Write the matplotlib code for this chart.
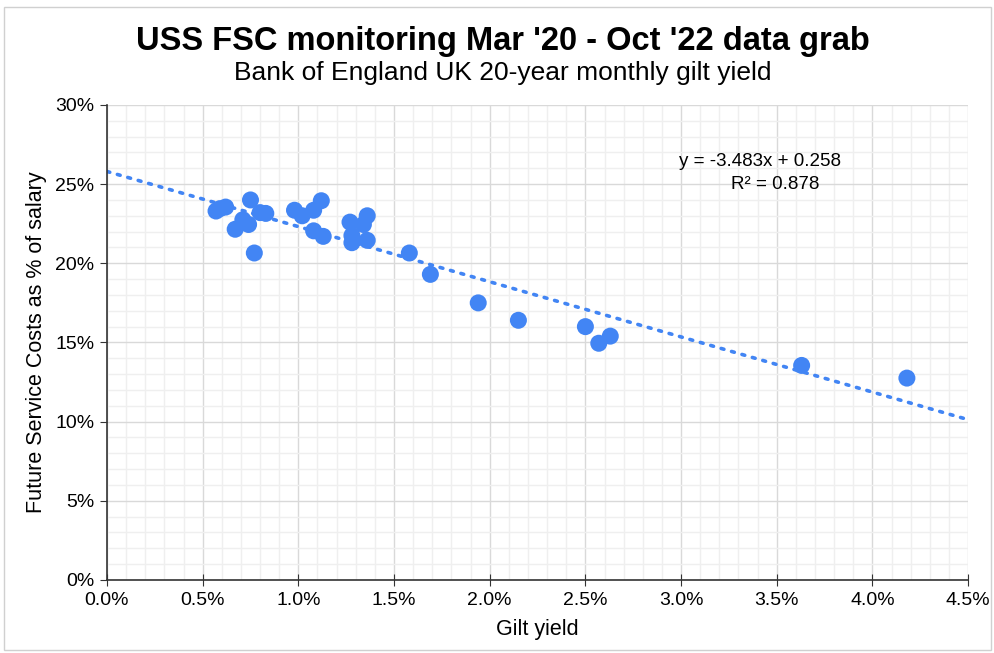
import matplotlib.pyplot as plt
import numpy as np
from matplotlib.ticker import MultipleLocator, FuncFormatter
from matplotlib.patches import Rectangle

plt.rcParams["font.family"] = ["Liberation Sans", "DejaVu Sans"]

# Gilt yield (%) vs future service cost (% of salary)
gilt_yield = [
    0.57, 0.59, 0.62, 0.75, 0.80, 0.83, 0.71, 0.74, 0.67, 0.77,
    0.98, 1.02, 1.08, 1.12, 1.08, 1.13, 1.27, 1.28, 1.28, 1.34,
    1.36, 1.36, 1.58, 1.69, 1.94, 2.15, 2.50, 2.57, 2.63, 3.63,
    4.18,
]
fsc_pct = [
    23.3, 23.45, 23.55, 24.0, 23.2, 23.15, 22.75, 22.45, 22.15, 20.65,
    23.35, 23.0, 23.35, 23.95, 22.05, 21.7, 22.6, 21.75, 21.3, 22.45,
    23.0, 21.45, 20.65, 19.3, 17.5, 16.4, 16.0, 14.95, 15.4, 13.55,
    12.75,
]
slope = -3.483
intercept = 0.258
r_squared = 0.878

blue = "#4285F4"

fig = plt.figure(figsize=(9.95, 6.53), dpi=100)
fig.patches.append(Rectangle((0.004, 0.004), 0.992, 0.985, transform=fig.transFigure,
                             fill=False, edgecolor="#d0d0d0", linewidth=1))
ax = fig.add_axes([0.1075, 0.1118, 0.8655, 0.7275])

x = np.array(gilt_yield) / 100
y = np.array(fsc_pct) / 100

# trendline
xt = np.linspace(0, 0.045, 200)
ax.plot(xt, slope * xt + intercept, linestyle=(0, (0.8, 2.2)), color=blue,
        linewidth=2.6, dash_capstyle="round", zorder=2)

ax.scatter(x, y, s=150, color=blue, edgecolors="none", zorder=3)

ax.set_xlim(0, 0.045)
ax.set_ylim(0, 0.30)
ax.xaxis.set_major_locator(MultipleLocator(0.005))
ax.xaxis.set_minor_locator(MultipleLocator(0.001))
ax.yaxis.set_major_locator(MultipleLocator(0.05))
ax.yaxis.set_minor_locator(MultipleLocator(0.01))
ax.xaxis.set_major_formatter(FuncFormatter(lambda v, p: f"{v * 100:.1f}%"))
ax.yaxis.set_major_formatter(FuncFormatter(lambda v, p: f"{v * 100:.0f}%"))

ax.grid(which="major", color="#d9d9d9", linewidth=1)
ax.grid(which="minor", color="#efefef", linewidth=1)
ax.set_axisbelow(True)

for side in ["top", "right"]:
    ax.spines[side].set_visible(False)
for side in ["left", "bottom"]:
    ax.spines[side].set_color("#333333")
    ax.spines[side].set_linewidth(1.2)

ax.tick_params(axis="x", which="major", direction="inout", length=8,
               color="#333333", labelsize=14, pad=5)
ax.tick_params(axis="y", which="major", direction="out", length=5,
               color="#333333", labelsize=14, pad=4)
ax.tick_params(which="minor", length=0)

ax.set_xlabel("Gilt yield", fontsize=15.5, labelpad=7)
ax.set_ylabel("Future Service Costs as % of salary", fontsize=15.5, labelpad=6)

fig.text(0.505, 0.937, "USS FSC monitoring Mar '20 - Oct '22 data grab",
         ha="center", va="center", fontsize=23.5, fontweight="bold")
fig.text(0.505, 0.888, "Bank of England UK 20-year monthly gilt yield",
         ha="center", va="center", fontsize=19)

ax.text(0.03413, 0.264, f"y = {slope:.3f}x + {intercept:.3f}", ha="center",
        va="center", fontsize=13.5)
ax.text(0.0349, 0.2495, f"R² = {r_squared:.3f}", ha="center", va="center",
        fontsize=13.5)

fig.savefig("out.png", dpi=100)
